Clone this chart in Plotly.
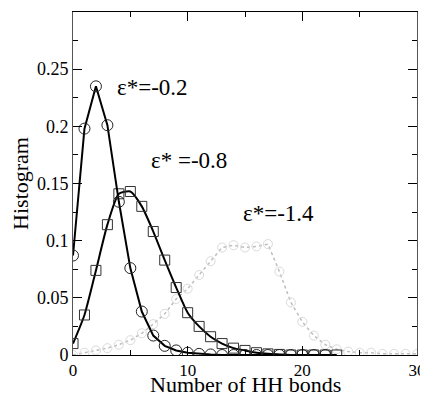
import plotly.graph_objects as go

# ---- data ----
x_02 = list(range(0, 23))
y_02 = [0.087, 0.198, 0.235, 0.201, 0.134, 0.076, 0.038, 0.017, 0.008, 0.004,
        0.002, 0.001, 0.0005, 0.0, 0.0, 0.0, 0.0, 0.0, 0.0, 0.0, 0.0, 0.0, 0.0]

x_08 = list(range(0, 24))
y_08 = [0.010, 0.035, 0.074, 0.114, 0.141, 0.143, 0.130, 0.108, 0.083, 0.059,
        0.037, 0.025, 0.016, 0.010, 0.006, 0.004, 0.002, 0.001, 0.0005, 0.0,
        0.0, 0.0, 0.0, 0.0]

x_14 = list(range(0, 31))
y_14 = [0.0, 0.002, 0.004, 0.006, 0.009, 0.013, 0.019, 0.027, 0.036, 0.049,
        0.058, 0.070, 0.082, 0.094, 0.096, 0.094, 0.095, 0.097, 0.073, 0.046,
        0.029, 0.017, 0.009, 0.005, 0.003, 0.002, 0.002, 0.001, 0.001, 0.001, 0.001]

labels = ["ε*=-0.2", "ε* =-0.8", "ε*=-1.4"]
label_x = [6.95, 10.15, 17.9]
label_y = [0.234, 0.170, 0.124]

x_title = "Number of HH bonds"
y_title = "Histogram"
x_ticks = [0, 10, 20, 30]
y_ticks = [0, 0.05, 0.1, 0.15, 0.2, 0.25]
y_tick_text = ["0", "0.05", "0.1", "0.15", "0.2", "0.25"]

FONT = "'Liberation Serif', 'Times New Roman', 'DejaVu Serif', serif"

fig = go.Figure()

fig.add_trace(go.Scatter(
    x=x_14, y=y_14, mode="lines+markers",
    line=dict(color="#bdbdbd", width=1.5, dash="dot"),
    marker=dict(symbol="circle-open", size=9, color="#dadada", line=dict(width=1)),
))
fig.add_trace(go.Scatter(
    x=x_08, y=y_08, mode="lines+markers",
    line=dict(color="black", width=2, shape="spline", smoothing=0.6),
    marker=dict(symbol="square-open", size=10, color="#333", line=dict(width=1)),
))
fig.add_trace(go.Scatter(
    x=x_02, y=y_02, mode="lines+markers",
    line=dict(color="black", width=2),
    marker=dict(symbol="circle-open", size=11, color="#222", line=dict(width=1)),
))

for t, xv, yv in zip(labels, label_x, label_y):
    fig.add_annotation(x=xv, y=yv, text=t, showarrow=False, xanchor="center",
                       yanchor="middle", font=dict(family=FONT, size=23, color="black"))

# x-axis title placed just under the tick labels, as in the reference
fig.add_annotation(x=0.501, y=-0.085, xref="paper", yref="paper", text=x_title,
                   showarrow=False, xanchor="center", yanchor="middle",
                   font=dict(family=FONT, size=22, color="black"))

# the page body has an 8px margin, so margins are set so the plot area lands where the reference has it
fig.update_layout(
    width=428, height=397,
    margin=dict(l=65, r=19, t=4, b=50),
    paper_bgcolor="white", plot_bgcolor="white",
    showlegend=False,
    font=dict(family=FONT, color="black"),
)
fig.update_xaxes(
    range=[0, 30], tickmode="array", tickvals=x_ticks, automargin=False,
    ticks="inside", ticklen=9, tickwidth=1, tickcolor="black",
    minor=dict(tickmode="linear", tick0=0, dtick=5, ticks="inside", ticklen=5, tickcolor="black"),
    showline=True, linecolor="black", linewidth=1, mirror="ticks",
    showgrid=False, zeroline=False,
    tickfont=dict(family=FONT, size=17, color="black"),
)
fig.update_yaxes(
    range=[0, 0.3], tickmode="array", tickvals=y_ticks, ticktext=y_tick_text, automargin=False,
    ticks="inside", ticklen=9, tickwidth=1, tickcolor="black",
    minor=dict(tickmode="linear", tick0=0, dtick=0.025, ticks="inside", ticklen=5, tickcolor="black"),
    showline=True, linecolor="#555", linewidth=1, mirror="ticks",
    showgrid=False, zeroline=False,
    tickfont=dict(family=FONT, size=18, color="black"),
    title=dict(text=y_title, font=dict(family=FONT, size=22, color="black"), standoff=8),
)

fig.write_html("out.html")
